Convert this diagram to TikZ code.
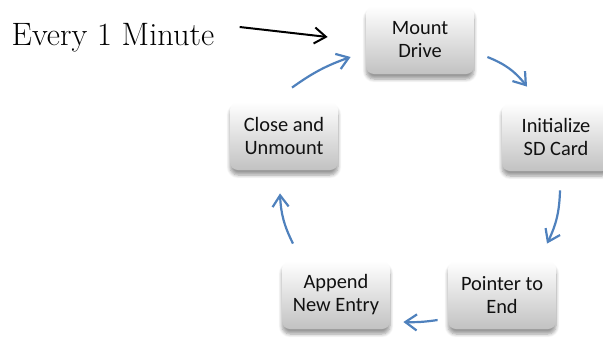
\documentclass[tikz,border=0pt]{standalone}
\usepackage{fontspec}
\newfontfamily\boxfont{Carlito}
\usepackage{tikz}
\usetikzlibrary{arrows.meta,shadows.blur}
\definecolor{cblue}{HTML}{4F81BD}
\definecolor{cink}{HTML}{111111}
\tikzset{
  stage/.style={rounded corners=4pt,align=center,text=cink,
                minimum width=54pt,minimum height=34pt,inner sep=2pt,
                top color=white,bottom color=black!24,
                blur shadow={shadow xshift=0pt,shadow yshift=-2.5pt,
                             shadow opacity=40,shadow blur steps=6},
                font=\boxfont\fontsize{10.2}{11.5}\selectfont},
  cyc/.style={-{Straight Barb[angle=70:7pt]},cblue,line width=1.1pt},
  trig/.style={-{Straight Barb[angle=70:7pt]},black,line width=1pt},
}

\begin{document}
\begin{tikzpicture}[x=0.5pt,y=-0.5pt]
\useasboundingbox (0,0) rectangle (603,338);

% ================= the five stages =================
\node[stage] (mount)   at (420,40)  {Mount\\Drive};
\node[stage] (init)    at (556,137) {Initialize\\SD Card};
\node[stage] (pointer) at (502,295) {Pointer to\\End};
\node[stage] (append)  at (336,295) {Append\\New Entry};
\node[stage] (close)   at (284,136) {Close and\\Unmount};

% ================= cycle arrows =================
\draw[cyc] ([shift={(8,-14)}]close.north) to[bend left=8] ([shift={(-15,17)}]mount.west);
\draw[cyc] ([shift={(13,17)}]mount.east) to[bend left=15] ([shift={(-29,-16)}]init.north);
\draw[cyc] ([shift={(4,19)}]init.south) to[bend left=12] ([shift={(45,-17)}]pointer.north);
\draw[cyc] ([shift={(-10,25)}]pointer.west) to[bend left=5] ([shift={(13,27)}]append.east);
\draw[cyc] ([shift={(-43,-17)}]append.north) to[bend left=12] ([shift={(-4,23)}]close.south);

% ================= trigger =================
\node[font=\fontsize{16.2}{19}\selectfont,inner sep=0pt] (every) at (113,38) {Every 1 Minute};
\draw[trig] ([shift={(25,-11)}]every.east) -- ([shift={(-38,-3)}]mount.west);

\end{tikzpicture}
\end{document}
